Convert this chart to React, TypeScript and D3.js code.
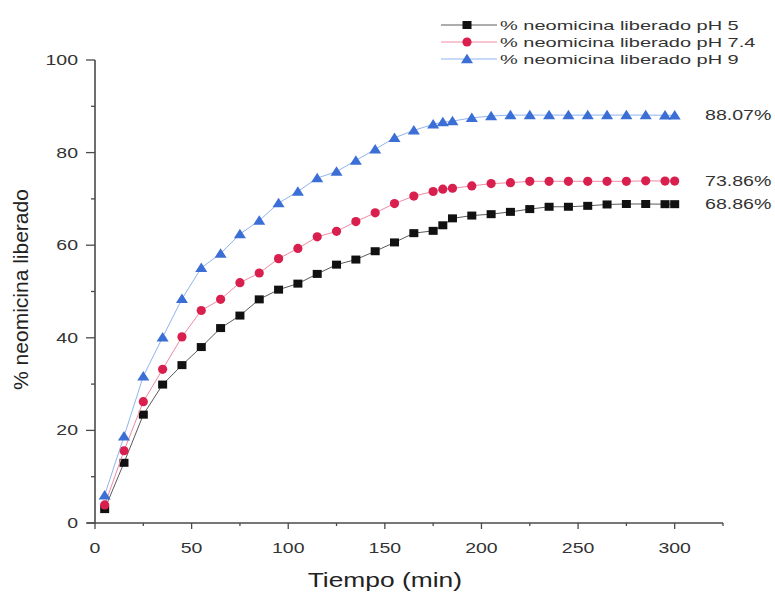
import React from 'react';
import * as d3 from 'd3';

const width = 775;
const height = 593;
const margin = { top: 60, right: 52, bottom: 70, left: 95 };

// sampling times (min)
const tiempos = [5, 15, 25, 35, 45, 55, 65, 75, 85, 95, 105, 115, 125, 135, 145, 155, 165, 175, 180, 185,
  195, 205, 215, 225, 235, 245, 255, 265, 275, 285, 295, 300];

const ph5 = [3.0, 13.0, 23.4, 29.9, 34.1, 38.0, 42.1, 44.8, 48.3, 50.4, 51.7, 53.8, 55.8, 56.9, 58.7, 60.6, 62.6, 63.1, 64.3, 65.8,
  66.4, 66.7, 67.2, 67.8, 68.3, 68.3, 68.5, 68.8, 68.9, 68.9, 68.86, 68.86];
const ph74 = [3.9, 15.6, 26.2, 33.2, 40.2, 45.9, 48.3, 51.9, 54.0, 57.1, 59.3, 61.8, 63.0, 65.1, 67.0, 69.0, 70.6, 71.6, 72.1, 72.3,
  72.8, 73.3, 73.5, 73.8, 73.8, 73.8, 73.8, 73.8, 73.8, 73.9, 73.86, 73.86];
const ph9 = [6.0, 18.7, 31.7, 40.1, 48.4, 55.1, 58.2, 62.4, 65.3, 69.1, 71.6, 74.5, 75.9, 78.3, 80.7, 83.2, 84.8, 86.1, 86.6, 86.8,
  87.5, 87.9, 88.1, 88.1, 88.1, 88.1, 88.1, 88.1, 88.1, 88.1, 88.07, 88.07];

const series = [
  { name: '% neomicina liberado pH 5', values: ph5, fill: '#111111', line: '#5a5a5a', shape: 'square', final: '68.86%' },
  { name: '% neomicina liberado pH 7.4', values: ph74, fill: '#d81f4e', line: '#f08aa4', shape: 'circle', final: '73.86%' },
  { name: '% neomicina liberado pH 9', values: ph9, fill: '#3b6fd6', line: '#8fb4ee', shape: 'triangle', final: '88.07%' },
];

const xMajor = [0, 50, 100, 150, 200, 250, 300];
const yMajor = [0, 20, 40, 60, 80, 100];

const font = 'Liberation Sans, Arial, sans-serif';

// the source picture is stretched sideways, so text is too
function Label({ x, y, sx, size, anchor = 'start', fill = '#333', children }:
  { x: number; y: number; sx: number; size: number; anchor?: string; fill?: string; children: React.ReactNode }) {
  return (
    <text transform={`translate(${x},${y}) scale(${sx},1)`} textAnchor={anchor} fontFamily={font} fontSize={size} fill={fill}>
      {children}
    </text>
  );
}

function Marker({ shape, x, y, fill }: { shape: string; x: number; y: number; fill: string }) {
  if (shape === 'square') return <rect x={x - 4.5} y={y - 4} width={9} height={8} fill={fill} />;
  if (shape === 'circle') return <circle cx={x} cy={y} r={4.6} fill={fill} />;
  const tri = d3.symbol().type(d3.symbolTriangle).size(52)();
  return <path d={tri || ''} transform={`translate(${x},${y + 1}) scale(1.1,1)`} fill={fill} />;
}

export default function App() {
  const x = d3.scaleLinear().domain([0, 325]).range([margin.left, width - margin.right]);
  const y = d3.scaleLinear().domain([0, 100]).range([height - margin.bottom, margin.top]);
  const line = d3.line<number>().x((_, i) => x(tiempos[i])).y(d => y(d));
  const axisColor = '#4a4a4a';
  const x0 = y(0);

  return (
    <svg width={width} height={height} style={{ position: 'absolute', left: 0, top: 0, background: '#fff' }}>
      {/* series */}
      {series.map(s => (
        <g key={s.name}>
          <path d={line(s.values) || ''} fill="none" stroke={s.line} strokeWidth={1} />
          {s.values.map((v, i) => (
            <Marker key={i} shape={s.shape} x={x(tiempos[i])} y={y(v)} fill={s.fill} />
          ))}
          <Label x={705} y={y(s.values[s.values.length - 1]) + 5} sx={1.4} size={14}>{s.final}</Label>
        </g>
      ))}

      {/* axes */}
      <line x1={x(0) - 8} x2={x(325)} y1={x0} y2={x0} stroke={axisColor} strokeWidth={1.6} />
      <line x1={x(0)} x2={x(0)} y1={x0} y2={y(100)} stroke={axisColor} strokeWidth={1.6} />
      {d3.range(0, 326, 25).map(t => (
        <line key={'xt' + t} x1={x(t)} x2={x(t)} y1={x0} y2={x0 + (t % 50 === 0 ? 6 : 3)} stroke={axisColor} strokeWidth={1.3} />
      ))}
      {d3.range(0, 101, 10).map(t => (
        <line key={'yt' + t} x1={x(0) - (t % 20 === 0 ? 9 : 4)} x2={x(0)} y1={y(t)} y2={y(t)} stroke={axisColor} strokeWidth={1.3} />
      ))}
      {xMajor.map(t => (
        <Label key={'xl' + t} x={x(t)} y={x0 + 30} sx={1.3} size={15} anchor="middle">{t}</Label>
      ))}
      {yMajor.map(t => (
        <Label key={'yl' + t} x={78} y={y(t) + 5} sx={1.3} size={15} anchor="end">{t}</Label>
      ))}
      <Label x={x(150)} y={587} sx={1.32} size={20} anchor="middle" fill="#222">Tiempo (min)</Label>
      <text transform={`translate(28,${y(50) - 2}) rotate(-90)`} textAnchor="middle" fontFamily={font} fontSize={21} fill="#222">% neomicina liberado</text>

      {/* legend */}
      {series.map((s, i) => {
        const ly = 25 + i * 17;
        return (
          <g key={'lg' + i}>
            <line x1={441} x2={497} y1={ly} y2={ly} stroke={s.line} strokeWidth={1} />
            <Marker shape={s.shape} x={467} y={ly} fill={s.fill} />
            <Label x={500} y={ly + 5} sx={1.48} size={13.5}>{s.name}</Label>
          </g>
        );
      })}
    </svg>
  );
}
